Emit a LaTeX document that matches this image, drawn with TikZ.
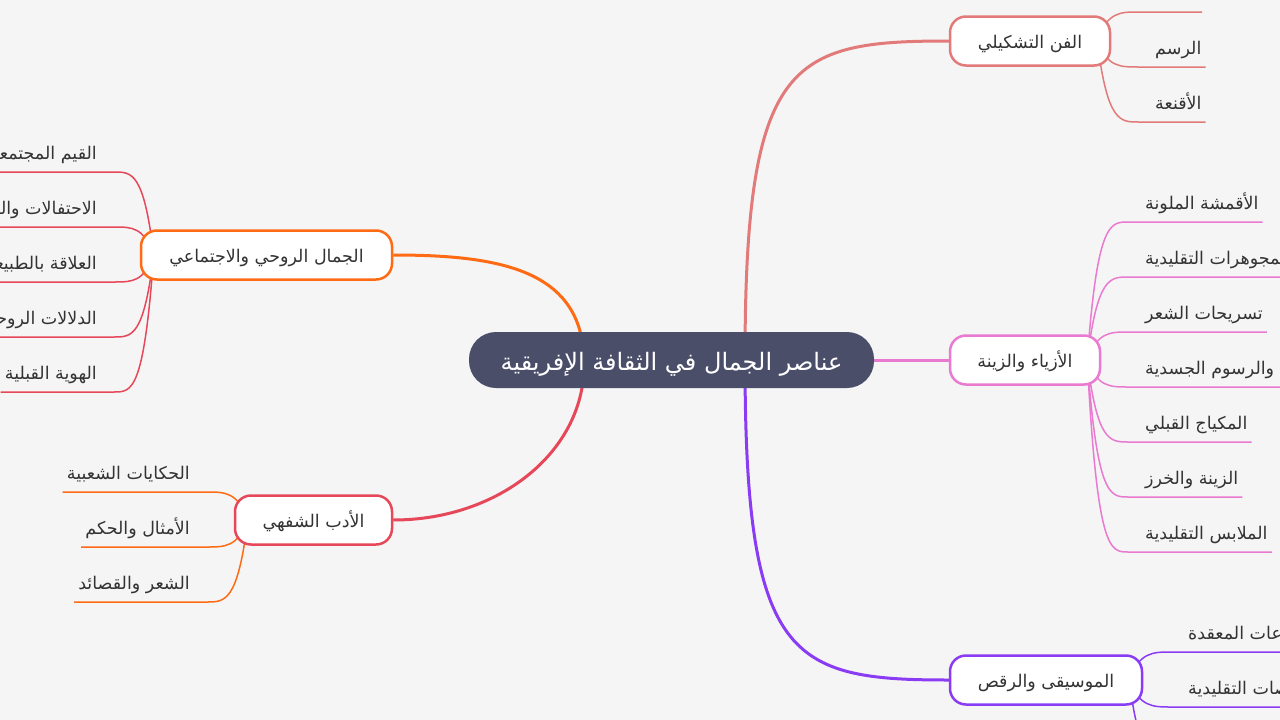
\documentclass[tikz,border=0pt]{standalone}
\usepackage{fontspec}
\newfontfamily\arabicfont[Script=Arabic]{DejaVu Sans}
\TeXXeTstate=1
\usetikzlibrary{positioning,calc,backgrounds}

\definecolor{bgcol}{RGB}{245,245,245}
\definecolor{rootcol}{RGB}{75,78,105}
\definecolor{txtcol}{RGB}{51,51,51}
\definecolor{fancol}{RGB}{226,122,122}
\definecolor{azcol}{RGB}{234,122,208}
\definecolor{muscol}{RGB}{138,60,245}
\definecolor{jamcol}{RGB}{255,107,20}
\definecolor{adabcol}{RGB}{230,72,90}

\newcommand{\artxt}[1]{\beginR #1\endR}

\begin{document}
\begin{tikzpicture}[x=1pt,y=-1pt]

\tikzstyle{root}=[rectangle,fill=rootcol,rounded corners=27pt,minimum width=405pt,minimum height=56pt,text height=26pt,text depth=6pt,text=white,font=\arabicfont\fontsize{24}{28}\selectfont]
\tikzstyle{topic}=[rectangle,draw,fill=white,line width=2.5pt,rounded corners=16pt,minimum height=49pt,text height=18.5pt,text depth=4.5pt,text=txtcol,font=\arabicfont\fontsize{17.5}{21}\selectfont]
\tikzstyle{leaf}=[inner sep=0pt,text height=18.5pt,text depth=4.5pt,text=txtcol,font=\arabicfont\fontsize{17.5}{21}\selectfont]
\tikzstyle{leafR}=[leaf,anchor=west]
\tikzstyle{leafL}=[leaf,anchor=east]
\tikzstyle{branch}=[line width=3pt]
\tikzstyle{twig}=[line width=1.5pt]
\tikzstyle{twigR}=[twig,to path={.. controls ($(\tikztostart|-\tikztotarget)+(10,0)$) and ($(\tikztotarget)+(-18,0)$) .. (\tikztotarget)}]
\tikzstyle{twigL}=[twig,to path={.. controls ($(\tikztostart|-\tikztotarget)+(-10,0)$) and ($(\tikztotarget)+(18,0)$) .. (\tikztotarget)}]

\useasboundingbox (0,0) rectangle (1280,720);
\clip (0,0) rectangle (1280,720);

%root
\node[root] (root) at (671.5,360) {\artxt{عناصر الجمال في الثقافة الإفريقية}};
\coordinate (rootr) at (745,360);
\coordinate (rootl) at (584,360);

%topics
\node[topic,draw=fancol,minimum width=160pt] (fan) at (1030,41) {\artxt{الفن التشكيلي}};
\node[topic,draw=azcol,minimum width=150pt] (azyaa) at (1025,360) {\artxt{الأزياء والزينة}};
\node[topic,draw=muscol,minimum width=192pt] (music) at (1046,680) {\artxt{الموسيقى والرقص}};
\node[topic,draw=jamcol,minimum width=251pt] (jamal) at (266.5,255) {\artxt{الجمال الروحي والاجتماعي}};
\node[topic,draw=adabcol,minimum width=157pt] (adab) at (313.5,520) {\artxt{الأدب الشفهي}};

\coordinate (fanr) at ([xshift=-14pt]fan.east);
\coordinate (azyaar) at ([xshift=-14pt]azyaa.east);
\coordinate (musicr) at ([xshift=-14pt]music.east);
\coordinate (jamall) at ([xshift=14pt]jamal.west);
\coordinate (adabl) at ([xshift=14pt]adab.west);

%leaves right
\coordinate (fan1a) at (1138,12);
\coordinate (fan1b) at (1202,12);
\node[leafR] (fan2) at (1155,47) {\artxt{الرسم}};
\node[leafR] (fan3) at (1155,102) {\artxt{الأقنعة}};

\node[leafR] (az1) at (1145,202) {\artxt{الأقمشة الملونة}};
\node[leafR] (az2) at (1145,257) {\artxt{المجوهرات التقليدية}};
\node[leafR] (az3) at (1145,312) {\artxt{تسريحات الشعر}};
\node[leafR] (az4) at (1145,367) {\artxt{الوشم والرسوم الجسدية}};
\node[leafR] (az5) at (1145,422) {\artxt{المكياج القبلي}};
\node[leafR] (az6) at (1145,477) {\artxt{الزينة والخرز}};
\node[leafR] (az7) at (1145,532) {\artxt{الملابس التقليدية}};

\node[leafR] (mus1) at (1188,632) {\artxt{الإيقاعات المعقدة}};
\node[leafR] (mus2) at (1188,687) {\artxt{الرقصات التقليدية}};
\coordinate (mus3) at (1172,762);

%leaves left
\node[leafL] (jam1) at (97,152) {\artxt{القيم المجتمعية}};
\node[leafL] (jam2) at (97,207) {\artxt{الاحتفالات والطقوس}};
\node[leafL] (jam3) at (97,262) {\artxt{العلاقة بالطبيعة}};
\node[leafL] (jam4) at (97,317) {\artxt{الدلالات الروحية}};
\node[leafL] (jam5) at (97,372) {\artxt{الهوية القبلية}};

\node[leafL] (adab1) at (190,472) {\artxt{الحكايات الشعبية}};
\node[leafL] (adab2) at (190,527) {\artxt{الأمثال والحكم}};
\node[leafL] (adab3) at (190,582) {\artxt{الشعر والقصائد}};

\begin{scope}[on background layer]
\fill[bgcol] (0,0) rectangle (1280,720);

% branches
\draw[branch,fancol] (rootr) .. controls (745,60) and (790,41) .. (fan.west);
\draw[branch,azcol] (root.east) -- (azyaa.west);
\draw[branch,muscol] (rootr) .. controls (745,660) and (790,680) .. (music.west);
\draw[branch,jamcol] (rootl) .. controls (582,270) and (500,255) .. (jamal.east);
\draw[branch,adabcol] (rootl) .. controls (587,450) and (500,520) .. (adab.east);

% twigs
\draw[twigR,fancol] (fanr) to (fan1a) -- (fan1b);
\draw[twigR,fancol] (fanr) to ([shift={(-17,20)}]fan2.west) -- ([shift={(4,20)}]fan2.east);
\draw[twigR,fancol] (fanr) to ([shift={(-17,20)}]fan3.west) -- ([shift={(4,20)}]fan3.east);

\draw[twigR,azcol] (azyaar) to ([shift={(-17,20)}]az1.west) -- ([shift={(4,20)}]az1.east);
\draw[twigR,azcol] (azyaar) to ([shift={(-17,20)}]az2.west) -- ([shift={(4,20)}]az2.east);
\draw[twigR,azcol] (azyaar) to ([shift={(-17,20)}]az3.west) -- ([shift={(4,20)}]az3.east);
\draw[twigR,azcol] (azyaar) to ([shift={(-17,20)}]az4.west) -- ([shift={(4,20)}]az4.east);
\draw[twigR,azcol] (azyaar) to ([shift={(-17,20)}]az5.west) -- ([shift={(4,20)}]az5.east);
\draw[twigR,azcol] (azyaar) to ([shift={(-17,20)}]az6.west) -- ([shift={(4,20)}]az6.east);
\draw[twigR,azcol] (azyaar) to ([shift={(-17,20)}]az7.west) -- ([shift={(4,20)}]az7.east);

\draw[twigR,muscol] (musicr) to ([shift={(-17,20)}]mus1.west) -- ([shift={(4,20)}]mus1.east);
\draw[twigR,muscol] (musicr) to ([shift={(-17,20)}]mus2.west) -- ([shift={(4,20)}]mus2.east);
\draw[twigR,muscol] (musicr) to (mus3);

\draw[twigL,adabcol] (jamall) to ([shift={(17,20)}]jam1.east) -- ([shift={(-4,20)}]jam1.west);
\draw[twigL,adabcol] (jamall) to ([shift={(17,20)}]jam2.east) -- ([shift={(-4,20)}]jam2.west);
\draw[twigL,adabcol] (jamall) to ([shift={(17,20)}]jam3.east) -- ([shift={(-4,20)}]jam3.west);
\draw[twigL,adabcol] (jamall) to ([shift={(17,20)}]jam4.east) -- ([shift={(-4,20)}]jam4.west);
\draw[twigL,adabcol] (jamall) to ([shift={(17,20)}]jam5.east) -- ([shift={(-4,20)}]jam5.west);

\draw[twigL,jamcol] (adabl) to ([shift={(17,20)}]adab1.east) -- ([shift={(-4,20)}]adab1.west);
\draw[twigL,jamcol] (adabl) to ([shift={(17,20)}]adab2.east) -- ([shift={(-4,20)}]adab2.west);
\draw[twigL,jamcol] (adabl) to ([shift={(17,20)}]adab3.east) -- ([shift={(-4,20)}]adab3.west);
\end{scope}

\end{tikzpicture}
\end{document}
